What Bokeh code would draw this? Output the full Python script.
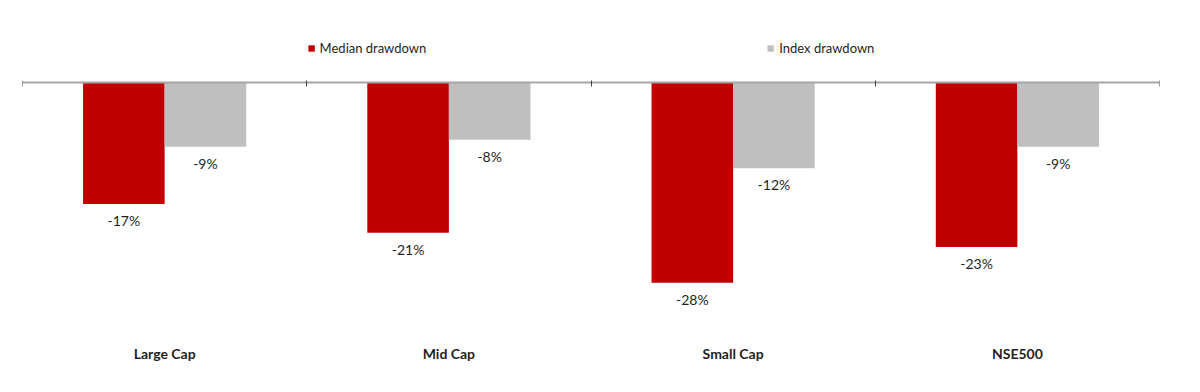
from bokeh.plotting import figure
from bokeh.models import (Range1d, LinearAxis, FixedTicker, Legend, LegendItem, ColumnDataSource)
from bokeh.transform import dodge
from bokeh.core.properties import value
from bokeh.embed import file_html
from bokeh.resources import INLINE

categories = ["Large Cap", "Mid Cap", "Small Cap", "NSE500"]
median_drawdown = [-17, -21, -28, -23]
index_drawdown = [-9, -8, -12, -9]

RED = "#C00000"
GREY = "#BFBFBF"
FONT = "Lato"
TXT = "#1F1F1F"

n = len(categories)
centers = [i + 0.5 for i in range(n)]

src = ColumnDataSource(dict(
    x=centers,
    med=median_drawdown,
    idx=index_drawdown,
    med_lbl=[f"{v}%" for v in median_drawdown],
    idx_lbl=[f"{v}%" for v in index_drawdown],
))

p = figure(width=1184, height=376, x_range=Range1d(0, n), y_range=Range1d(-35.24, 8.67),
           output_backend="svg", toolbar_location=None,
           x_axis_location=None, y_axis_location=None,
           min_border_left=22, min_border_right=25, min_border_top=20, min_border_bottom=42)
p.outline_line_color = None
p.xgrid.visible = False
p.ygrid.visible = False

W = 0.287
r1 = p.vbar(x=dodge("x", -W / 2), top="med", bottom=0, width=W,
            source=src, fill_color=RED, line_color=None)
r2 = p.vbar(x=dodge("x", W / 2), top="idx", bottom=0, width=W,
            source=src, fill_color=GREY, line_color=None)

for col, lbl, off in (("med", "med_lbl", -W / 2), ("idx", "idx_lbl", W / 2)):
    p.text(x=dodge("x", off), y=col, text=lbl, source=src,
           text_align="center", text_baseline="top", y_offset=8,
           text_font=value(FONT), text_font_size="14px", text_color=TXT)

# zero line with category boundary ticks
bounds = list(range(n + 1))
top_axis = LinearAxis(ticker=FixedTicker(ticks=bounds), fixed_location=0,
                      major_label_overrides={b: "" for b in bounds}, major_label_standoff=0,
                      axis_line_color="#A6A6A6", axis_line_width=2,
                      major_tick_line_color="#404040", major_tick_in=2, major_tick_out=4,
                      minor_tick_line_color=None)
p.add_layout(top_axis, "below")

legend = Legend(items=[LegendItem(label="Median drawdown", renderers=[r1]),
                       LegendItem(label="Index drawdown", renderers=[r2])],
                orientation="horizontal", location="top_center", spacing=340,
                glyph_width=8, glyph_height=8, label_standoff=5,
                label_text_font=FONT, label_text_font_size="13px", label_text_color=TXT,
                border_line_alpha=0, background_fill_alpha=0, padding=0, margin=20)
p.add_layout(legend)

bottom_axis = LinearAxis(ticker=FixedTicker(ticks=centers),
                         major_label_overrides={c: name for c, name in zip(centers, categories)},
                         axis_line_color=None, major_tick_line_color=None,
                         minor_tick_line_color=None, major_label_standoff=4,
                         major_label_text_font=FONT, major_label_text_font_style="bold",
                         major_label_text_font_size="14px", major_label_text_color=TXT)
p.add_layout(bottom_axis, "below")

open("out.html", "w").write(file_html(p, INLINE))
